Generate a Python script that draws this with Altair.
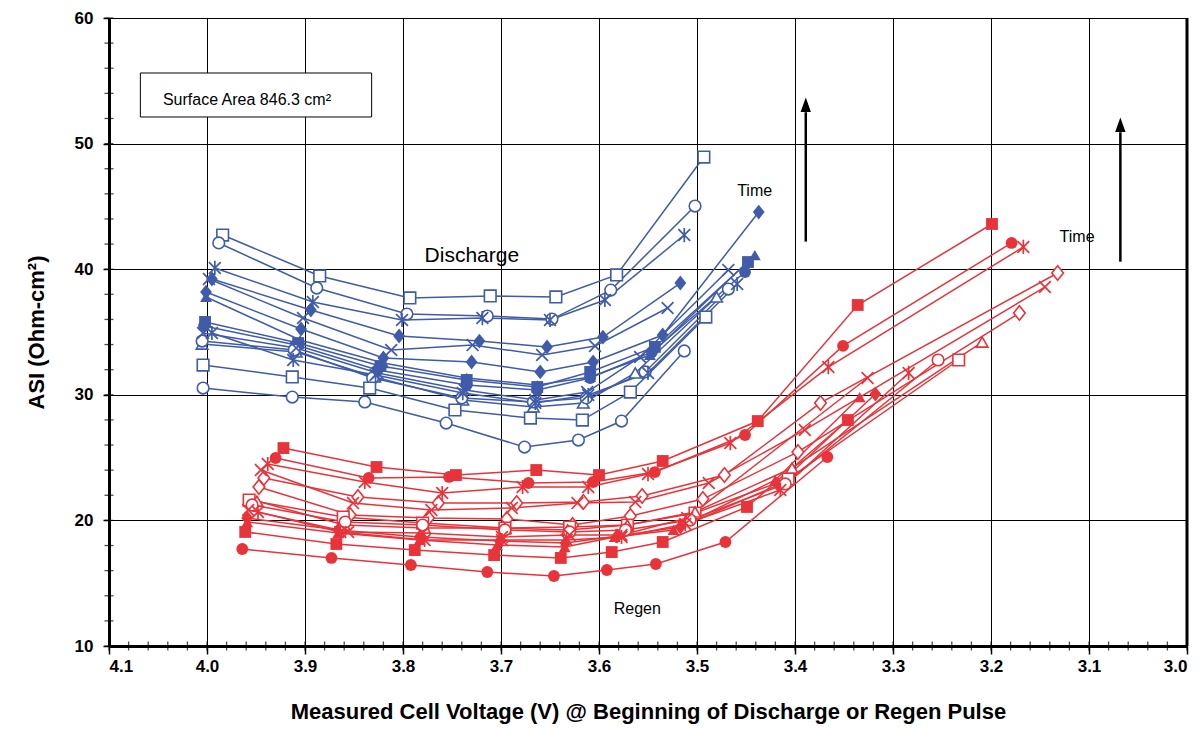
import altair as alt
import pandas as pd
import numpy as np

BLUE = "#3F5BA9"
RED = "#E8333A"

# ---------------- Discharge series (blue) : voltage, ASI ----------------
d1_v = [3.984, 3.885, 3.793, 3.711, 3.644, 3.582, 3.493]
d1_a = [42.72, 39.46, 37.71, 37.87, 37.79, 39.54, 48.93]
d2_v = [3.988, 3.888, 3.796, 3.714, 3.648, 3.588, 3.502]
d2_a = [42.09, 38.50, 36.43, 36.27, 36.03, 38.34, 45.03]
d3_v = [3.992, 3.892, 3.801, 3.719, 3.650, 3.594, 3.513]
d3_a = [40.10, 37.39, 35.96, 36.11, 35.96, 37.55, 42.72]
d4_v = [3.995, 3.894, 3.804, 3.722, 3.653, 3.596, 3.517]
d4_a = [39.22, 36.75, 34.68, 34.28, 33.81, 34.60, 38.90]
d5_v = [3.998, 3.902, 3.812, 3.729, 3.658, 3.604, 3.530]
d5_a = [39.22, 36.11, 33.57, 33.96, 33.17, 33.89, 36.91]
d6_v = [4.001, 3.904, 3.820, 3.730, 3.660, 3.606, 3.535, 3.437]
d6_a = [38.18, 35.24, 32.93, 32.61, 31.82, 32.61, 34.76, 44.55]
d7_v = [4.001, 3.905, 3.820, 3.735, 3.663, 3.609, 3.548, 3.441]
d7_a = [37.79, 34.36, 32.53, 31.34, 30.78, 31.42, 33.17, 41.13]
d8_v = [4.002, 3.907, 3.823, 3.735, 3.663, 3.609, 3.543, 3.448]
d8_a = [35.80, 34.12, 32.29, 31.18, 30.62, 31.82, 33.81, 40.57]
d9_v = [4.003, 3.909, 3.826, 3.735, 3.663, 3.609, 3.546, 3.451]
d9_a = [35.48, 33.96, 31.97, 30.78, 30.38, 31.34, 33.41, 39.78]
d10_v = [4.004, 3.909, 3.826, 3.737, 3.665, 3.612, 3.558, 3.468]
d10_a = [34.92, 33.73, 31.74, 30.38, 29.59, 30.22, 33.01, 39.94]
d11_v = [3.995, 3.912, 3.828, 3.739, 3.665, 3.611, 3.550, 3.459]
d11_a = [34.92, 32.77, 31.58, 30.14, 29.35, 29.98, 31.74, 38.82]
d12_v = [4.005, 3.909, 3.829, 3.739, 3.667, 3.616, 3.563, 3.480]
d12_a = [34.04, 33.41, 31.42, 29.59, 29.03, 29.35, 31.74, 37.79]
d13_v = [4.005, 3.911, 3.831, 3.740, 3.667, 3.613, 3.553, 3.468]
d13_a = [34.28, 33.57, 31.34, 29.75, 29.43, 29.75, 31.82, 38.42]
d14_v = [4.004, 3.913, 3.834, 3.747, 3.670, 3.617, 3.568, 3.491]
d14_a = [32.37, 31.42, 30.54, 28.79, 28.15, 27.99, 30.22, 36.19]
d15_v = [4.004, 3.913, 3.839, 3.756, 3.676, 3.621, 3.577, 3.513]
d15_a = [30.54, 29.82, 29.43, 27.75, 25.84, 26.40, 27.91, 33.49]

discharge_series = [
    (d1_v, d1_a, "square", "open"), (d2_v, d2_a, "circle", "open"),
    (d3_v, d3_a, "asterisk", "stroke"), (d4_v, d4_a, "diamond", "filled"),
    (d5_v, d5_a, "x", "stroke"), (d6_v, d6_a, "diamond", "filled"),
    (d7_v, d7_a, "triangle", "filled"), (d8_v, d8_a, "square", "filled"),
    (d9_v, d9_a, "circle", "filled"), (d10_v, d10_a, "x", "stroke"),
    (d11_v, d11_a, "asterisk", "stroke"), (d12_v, d12_a, "triangle", "open"),
    (d13_v, d13_a, "circle", "open"), (d14_v, d14_a, "square", "open"),
    (d15_v, d15_a, "circle", "open"),
]

# ---------------- Regen series (red) : voltage, ASI ----------------
r1_v = [3.922, 3.827, 3.746, 3.664, 3.600, 3.535, 3.438, 3.336, 3.199]
r1_a = [25.76, 24.25, 23.61, 24.01, 23.61, 24.73, 27.91, 37.15, 43.60]
r2_v = [3.930, 3.835, 3.753, 3.672, 3.606, 3.543, 3.451, 3.351, 3.179]
r2_a = [24.97, 23.38, 23.46, 22.98, 23.06, 23.85, 26.80, 33.89, 42.09]
r3_v = [3.938, 3.839, 3.760, 3.678, 3.611, 3.550, 3.466, 3.366, 3.167]
r3_a = [24.49, 23.06, 22.18, 22.66, 22.66, 23.69, 26.16, 32.21, 41.77]
r4_v = [3.945, 3.851, 3.771, 3.689, 3.622, 3.563, 3.488, 3.390, 3.145]
r4_a = [24.01, 21.38, 20.83, 20.99, 21.38, 21.46, 22.98, 27.20, 38.58]
r5_v = [3.942, 3.846, 3.764, 3.684, 3.616, 3.556, 3.472, 3.374, 3.132]
r5_a = [23.38, 21.86, 21.38, 21.38, 21.46, 21.94, 23.61, 29.35, 39.70]
r6_v = [3.947, 3.854, 3.774, 3.694, 3.627, 3.568, 3.494, 3.397, 3.171]
r6_a = [22.66, 20.43, 20.19, 20.11, 19.63, 20.35, 21.70, 25.45, 36.51]
r7_v = [3.957, 3.861, 3.780, 3.696, 3.630, 3.571, 3.502, 3.407, 3.233]
r7_a = [21.62, 20.27, 19.79, 19.39, 19.47, 19.63, 20.59, 23.30, 32.77]
r8_v = [3.949, 3.860, 3.778, 3.696, 3.632, 3.571, 3.502, 3.403, 3.209]
r8_a = [21.54, 19.63, 19.39, 19.39, 19.24, 19.63, 20.67, 24.17, 34.20]
r9_v = [3.954, 3.859, 3.780, 3.696, 3.630, 3.573, 3.507, 3.410, 3.254]
r9_a = [21.23, 19.87, 19.63, 19.24, 19.08, 19.24, 20.03, 22.90, 32.77]
r10_v = [3.958, 3.856, 3.780, 3.699, 3.630, 3.577, 3.510, 3.326]
r10_a = [20.83, 19.08, 19.00, 18.68, 18.84, 18.84, 20.19, 31.34]
r11_v = [3.948, 3.864, 3.778, 3.699, 3.633, 3.577, 3.512, 3.415, 3.284]
r11_a = [20.67, 19.08, 18.44, 18.44, 18.44, 18.68, 19.71, 22.42, 31.74]
r12_v = [3.959, 3.866, 3.783, 3.701, 3.634, 3.581, 3.517, 3.417, 3.318]
r12_a = [20.19, 19.24, 18.68, 18.36, 18.20, 18.76, 19.47, 22.82, 30.06]
r13_v = [3.959, 3.866, 3.783, 3.704, 3.635, 3.584, 3.524, 3.420, 3.334]
r13_a = [19.87, 19.00, 18.44, 18.04, 17.88, 18.68, 19.24, 23.22, 29.82]
r14_v = [3.961, 3.868, 3.788, 3.707, 3.639, 3.587, 3.535, 3.449, 3.346]
r14_a = [19.08, 18.12, 17.64, 17.24, 17.01, 17.48, 18.28, 21.07, 27.99]
r15_v = [3.964, 3.873, 3.792, 3.714, 3.646, 3.592, 3.542, 3.471, 3.367]
r15_a = [17.72, 17.01, 16.45, 15.89, 15.57, 16.05, 16.53, 18.28, 25.05]

regen_series = [
    (r1_v, r1_a, "square", "filled"), (r2_v, r2_a, "circle", "filled"),
    (r3_v, r3_a, "asterisk", "stroke"), (r4_v, r4_a, "x", "stroke"),
    (r5_v, r5_a, "diamond", "open"), (r6_v, r6_a, "diamond", "open"),
    (r7_v, r7_a, "square", "open"), (r8_v, r8_a, "triangle", "open"),
    (r9_v, r9_a, "circle", "open"), (r10_v, r10_a, "x", "stroke"),
    (r11_v, r11_a, "asterisk", "stroke"), (r12_v, r12_a, "diamond", "filled"),
    (r13_v, r13_a, "triangle", "filled"), (r14_v, r14_a, "square", "filled"),
    (r15_v, r15_a, "circle", "filled"),
]

# axis ticks
x_ticks = [4.1, 4.0, 3.9, 3.8, 3.7, 3.6, 3.5, 3.4, 3.3, 3.2, 3.1, 3.0]
y_ticks = [10, 20, 30, 40, 50, 60]
x_minor = [round(4.1 - 0.02 * i, 2) for i in range(56)]
y_minor = list(range(10, 61, 2))

rows = []
for group, series in (("Discharge", discharge_series), ("Regen", regen_series)):
    for k, (vs, As, shp, sty) in enumerate(series):
        for i, (v, a) in enumerate(zip(vs, As)):
            rows.append(dict(series=f"{group}{k}", group=group, v=v, asi=a,
                             idx=i, shape=shp, style=sty))
df = pd.DataFrame(rows)

shape_domain = ["square", "circle", "diamond", "triangle", "x", "asterisk"]
shape_range = ["square", "circle", "M0,-1.25L1,0L0,1.25L-1,0Z", "triangle-up",
               "M-1,-1L1,1M-1,1L1,-1",
               "M-1,-1L1,1M-1,1L1,-1M0,-1.2L0,1.2"]

xs = alt.Scale(domain=[3.0, 4.1], reverse=True, nice=False, zero=False)
ys = alt.Scale(domain=[10, 60], nice=False, zero=False)
X = alt.X("v:Q", scale=xs,
          axis=alt.Axis(values=x_ticks, format=".1f", grid=True, tickSize=8,
                        labelPadding=4,
                        title="Measured Cell Voltage (V) @ Beginning of Discharge or Regen Pulse",
                        titlePadding=27))
Y = alt.Y("asi:Q", scale=ys,
          axis=alt.Axis(values=y_ticks, format="d", grid=True, tickSize=6,
                        labelPadding=10, title="ASI (Ohm-cm²)", titlePadding=26))
C = alt.Color("group:N", scale=alt.Scale(domain=["Discharge", "Regen"],
                                         range=[BLUE, RED]), legend=None)
S = alt.Shape("shape:N", scale=alt.Scale(domain=shape_domain, range=shape_range),
              legend=None)

base = alt.Chart(df)
lines = base.mark_line(strokeWidth=1.5).encode(x=X, y=Y, color=C,
                                                detail="series:N", order="idx:Q")
filled_pts = base.transform_filter(alt.datum.style == "filled").mark_point(
    filled=True, size=140, opacity=1).encode(x="v:Q", y="asi:Q", color=C, shape=S)
open_pts = base.transform_filter(alt.datum.style == "open").mark_point(
    filled=False, fill="white", fillOpacity=1, size=135, strokeWidth=1.6,
    opacity=1).encode(x="v:Q", y="asi:Q", color=C, shape=S)
stroke_pts = base.transform_filter(alt.datum.style == "stroke").mark_point(
    filled=False, size=140, strokeWidth=1.7, opacity=1).encode(
    x="v:Q", y="asi:Q", color=C, shape=S)

# minor ticks
xminor = alt.Chart(pd.DataFrame({"v": x_minor})).mark_tick(
    orient="vertical", size=9, thickness=1.3, color="black").encode(
    x="v:Q", y=alt.value(628))
yminor = alt.Chart(pd.DataFrame({"asi": y_minor})).mark_tick(
    orient="horizontal", size=9, thickness=1.3, color="black").encode(
    y="asi:Q", x=alt.value(0))
right_border = alt.Chart(pd.DataFrame({"v": [3.0]})).mark_rule(
    color="black", strokeWidth=3).encode(x="v:Q")

# annotation box
box_df = pd.DataFrame({"v": [4.068], "v2": [3.832], "asi": [55.62], "asi2": [52.12]})
box = alt.Chart(box_df).mark_rect(fill="white", stroke="black", strokeWidth=1).encode(
    x="v:Q", x2="v2:Q", y="asi:Q", y2="asi2:Q")
box_text = alt.Chart(pd.DataFrame({"v": [4.045], "asi": [53.45],
                                   "t": ["Surface Area 846.3 cm²"]})).mark_text(
    align="left", baseline="middle", fontSize=16, font="Liberation Sans",
    color="black").encode(x="v:Q", y="asi:Q", text="t:N")

def label(v, a, t, size):
    return alt.Chart(pd.DataFrame({"v": [v], "asi": [a], "t": [t]})).mark_text(
        align="left", baseline="middle", fontSize=size, font="Liberation Sans",
        color="black").encode(x="v:Q", y="asi:Q", text="t:N")

labels = [label(3.778, 41.05, "Discharge", 21), label(3.459, 46.2, "Time", 16),
          label(3.130, 42.56, "Time", 16), label(3.585, 12.95, "Regen", 16)]

# arrows
arrow_v = [3.389, 3.068]
arrow_lo = [42.2, 40.6]
arrow_hi = [52.5, 50.9]
arrow_tip = [52.9, 51.3]
arr_df = pd.DataFrame({"v": arrow_v, "lo": arrow_lo, "hi": arrow_hi, "tip": arrow_tip})
arrow_shaft = alt.Chart(arr_df).mark_rule(color="black", strokeWidth=2.5).encode(
    x="v:Q", y="lo:Q", y2="hi:Q")
arrow_head = alt.Chart(arr_df).mark_point(
    shape="M0,-1.4L0.75,0.7L-0.75,0.7Z", filled=True,
    color="black", size=190, opacity=1).encode(x="v:Q", y="tip:Q")

chart = alt.layer(
    lines, filled_pts, open_pts, stroke_pts, xminor, yminor, right_border,
    box, box_text, *labels, arrow_shaft, arrow_head
).properties(
    width=1078, height=628,
    autosize=alt.AutoSizeParams(type="none"),
    padding={"left": 109, "top": 18, "right": 15, "bottom": 83},
).configure_view(stroke="black", strokeWidth=1).configure_axis(
    gridColor="black", gridOpacity=1, gridWidth=1,
    domainColor="black", domainWidth=3, tickColor="black", tickWidth=1.5,
    labelFont="Liberation Sans", labelFontWeight="bold", labelFontSize=17,
    labelColor="black", titleFont="Liberation Sans", titleFontWeight="bold",
    titleFontSize=22, titleColor="black"
)

chart.save("out.html", embed_options={"renderer": "svg", "actions": False})
